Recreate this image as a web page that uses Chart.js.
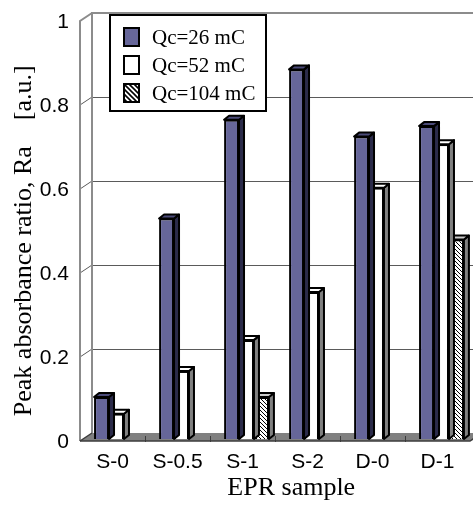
<!DOCTYPE html>
<html>
<head>
<meta charset="utf-8">
<script src="https://cdn.jsdelivr.net/npm/chart.js@4/dist/chart.umd.min.js"></script>
<style>
  html, body { margin: 0; padding: 0; background: #ffffff; }
  #wrap { width: 473px; height: 509px; position: relative; }
</style>
</head>
<body>
<div id="wrap"><canvas id="c" width="473" height="509"></canvas></div>
<script>
// ---- data ----
const categories = ['S-0', 'S-0.5', 'S-1', 'S-2', 'D-0', 'D-1'];
const seriesNames = ['Qc=26 mC', 'Qc=52 mC', 'Qc=104 mC'];
const q26 = [0.10, 0.525, 0.76, 0.88, 0.72, 0.745];
const q52 = [0.06, 0.162, 0.236, 0.35, 0.598, 0.702];
const q104 = [null, null, 0.10, null, null, 0.475];
const yTicks = [0, 0.2, 0.4, 0.6, 0.8, 1];

// ---- styles ----
const BLUE = '#666699';
const DX = 5, DY = 4;          // bar depth offset
const WX = 12, WY = 8;         // wall depth offset
const SHIFT_X = 4, SHIFT_Y = -2;

function makeHatch(period, lw) {
  const c = document.createElement('canvas');
  c.width = period; c.height = period;
  const g = c.getContext('2d');
  g.fillStyle = '#ffffff';
  g.fillRect(0, 0, period, period);
  g.strokeStyle = '#000000';
  g.lineWidth = lw;
  g.beginPath();
  g.moveTo(-1, -1); g.lineTo(period + 1, period + 1);
  g.moveTo(-1 - period, -1); g.lineTo(1, period + 1);
  g.moveTo(period - 1, -1); g.lineTo(2 * period + 1, period + 1);
  g.stroke();
  return g.createPattern(c, 'repeat');
}
const hatch = makeHatch(4, 1);
const hatchLegend = makeHatch(5, 1.6);

const fills = [BLUE, '#ffffff', hatch];
const sideFills = ['#2b2b4a', '#808080', '#808080'];
const topFills = ['#4a4a78', '#ffffff', '#cccccc'];
const legendFills = [BLUE, '#ffffff', hatchLegend];

const threeD = {
  id: 'threeD',
  beforeDatasetsDraw(chart) {
    const ctx = chart.ctx;
    const ys = chart.scales.y, xs = chart.scales.x;
    const L = chart.chartArea.left, R = chart.chartArea.right;
    const y0 = ys.getPixelForValue(0), y1 = ys.getPixelForValue(1);
    ctx.save();
    // floor
    ctx.fillStyle = '#808080';
    ctx.beginPath();
    ctx.moveTo(L, y0); ctx.lineTo(L + WX, y0 - WY);
    ctx.lineTo(R + WX, y0 - WY); ctx.lineTo(R, y0);
    ctx.closePath(); ctx.fill();
    // back wall gridlines + left wall tick diagonals
    ctx.strokeStyle = '#5a5a5a'; ctx.lineWidth = 1;
    yTicks.forEach(v => {
      if (v === 0 || v === 1) return;
      const py = ys.getPixelForValue(v);
      const y = Math.round(py - WY) + 0.5;
      ctx.beginPath(); ctx.moveTo(L + WX, y); ctx.lineTo(chart.width, y); ctx.stroke();
      ctx.beginPath(); ctx.moveTo(L, py); ctx.lineTo(L + WX, py - WY); ctx.stroke();
    });
    // wall edges
    ctx.strokeStyle = '#8c8c8c'; ctx.lineWidth = 2;
    ctx.beginPath();
    ctx.moveTo(chart.width, y1 - WY); ctx.lineTo(L + WX, y1 - WY);
    ctx.lineTo(L + WX, y0 - WY);
    ctx.stroke();
    ctx.beginPath();
    ctx.moveTo(L + WX, y1 - WY); ctx.lineTo(L, y1); ctx.lineTo(L, y0);
    ctx.stroke();
    // floor front edge
    ctx.strokeStyle = '#3c3c3c'; ctx.lineWidth = 1.5;
    ctx.beginPath();
    ctx.moveTo(L, y0); ctx.lineTo(R, y0); ctx.lineTo(R + WX, y0 - WY);
    ctx.stroke();
    ctx.beginPath();
    ctx.moveTo(L, y0); ctx.lineTo(L + WX, y0 - WY);
    ctx.stroke();
    // floor ticks at category boundaries
    ctx.lineWidth = 1;
    for (let i = 1; i < categories.length; i++) {
      const x = Math.round((xs.getPixelForValue(i - 1) + xs.getPixelForValue(i)) / 2) + 0.5;
      ctx.beginPath(); ctx.moveTo(x, y0 - 5); ctx.lineTo(x, y0 + 1); ctx.stroke();
    }
    ctx.restore();
    ctx.save();
    ctx.translate(SHIFT_X, SHIFT_Y);
  },
  afterDatasetDraw(chart, args) {
    const ctx = chart.ctx;
    const i = args.index;
    const raw = chart.data.datasets[i].data;
    ctx.save();
    ctx.lineWidth = 2;
    ctx.lineJoin = 'round';
    ctx.strokeStyle = '#000000';
    args.meta.data.forEach((el, j) => {
      if (raw[j] == null) return;
      const p = el.getProps(['x', 'y', 'base', 'width'], true);
      const l = p.x - p.width / 2, r = p.x + p.width / 2, y = p.y, base = p.base;
      // side
      ctx.fillStyle = sideFills[i];
      ctx.beginPath();
      ctx.moveTo(r, y); ctx.lineTo(r + DX, y - DY); ctx.lineTo(r + DX, base - DY); ctx.lineTo(r, base);
      ctx.closePath(); ctx.fill(); ctx.stroke();
      // top
      ctx.fillStyle = topFills[i];
      ctx.beginPath();
      ctx.moveTo(l, y); ctx.lineTo(l + DX, y - DY); ctx.lineTo(r + DX, y - DY); ctx.lineTo(r, y);
      ctx.closePath(); ctx.fill(); ctx.stroke();
    });
    ctx.restore();
  },
  afterDatasetsDraw(chart) {
    chart.ctx.restore();
  },
  afterDraw(chart) {
    const ctx = chart.ctx;
    ctx.save();
    const bx = 110, by = 15, bw = 156, bh = 96;
    ctx.fillStyle = '#ffffff';
    ctx.fillRect(bx, by, bw, bh);
    ctx.strokeStyle = '#000000'; ctx.lineWidth = 2;
    ctx.strokeRect(bx, by, bw, bh);
    ctx.font = '21px "Liberation Serif", "Times New Roman", serif';
    ctx.textBaseline = 'middle';
    ctx.textAlign = 'left';
    seriesNames.forEach((name, k) => {
      const cy = 37 + k * 28;
      ctx.fillStyle = legendFills[k];
      ctx.fillRect(124, cy - 9, 15, 18);
      ctx.lineWidth = 2;
      ctx.strokeRect(124, cy - 9, 15, 18);
      ctx.fillStyle = '#000000';
      ctx.fillText(name, 152, cy + 1);
    });
    ctx.restore();
  }
};

const seriesData = [q26, q52, q104];
new Chart(document.getElementById('c'), {
  type: 'bar',
  data: {
    labels: categories,
    datasets: seriesData.map((d, i) => ({
      label: seriesNames[i],
      data: d,
      backgroundColor: fills[i],
      borderColor: '#000000',
      borderWidth: 2,
      clip: false,
      categoryPercentage: 0.69,
      barPercentage: 1.0
    }))
  },
  plugins: [threeD],
  options: {
    responsive: false,
    animation: false,
    devicePixelRatio: 1,
    layout: { padding: { top: 21, right: 3, left: 0, bottom: 0 } },
    plugins: { legend: { display: false }, tooltip: { enabled: false } },
    scales: {
      x: {
        grid: { display: false },
        border: { display: false },
        ticks: {
          color: '#000000',
          padding: 1,
          font: { family: '"Liberation Sans", Arial, sans-serif', size: 21 }
        },
        title: {
          display: true,
          text: '     EPR sample',
          color: '#000000',
          font: { family: '"Liberation Serif", "Times New Roman", serif', size: 26 },
          padding: { top: 0, bottom: 5 }
        },
        afterFit(scale) { scale.height = 68; }
      },
      y: {
        min: 0, max: 1,
        afterBuildTicks(scale) { scale.ticks = yTicks.map(v => ({ value: v })); },
        grid: { display: false },
        border: { display: false },
        ticks: {
          color: '#000000',
          padding: 3,
          labelOffset: 1,
          font: { family: '"Liberation Sans", Arial, sans-serif', size: 21 },
          callback: v => String(v)
        },
        title: {
          display: true,
          text: 'Peak absorbance ratio, Ra    [a.u.]   ',
          color: '#000000',
          font: { family: '"Liberation Serif", "Times New Roman", serif', size: 26 },
          padding: { top: 9, bottom: 0 }
        },
        afterFit(scale) { scale.width = 80; }
      }
    }
  }
});
</script>
</body>
</html>
